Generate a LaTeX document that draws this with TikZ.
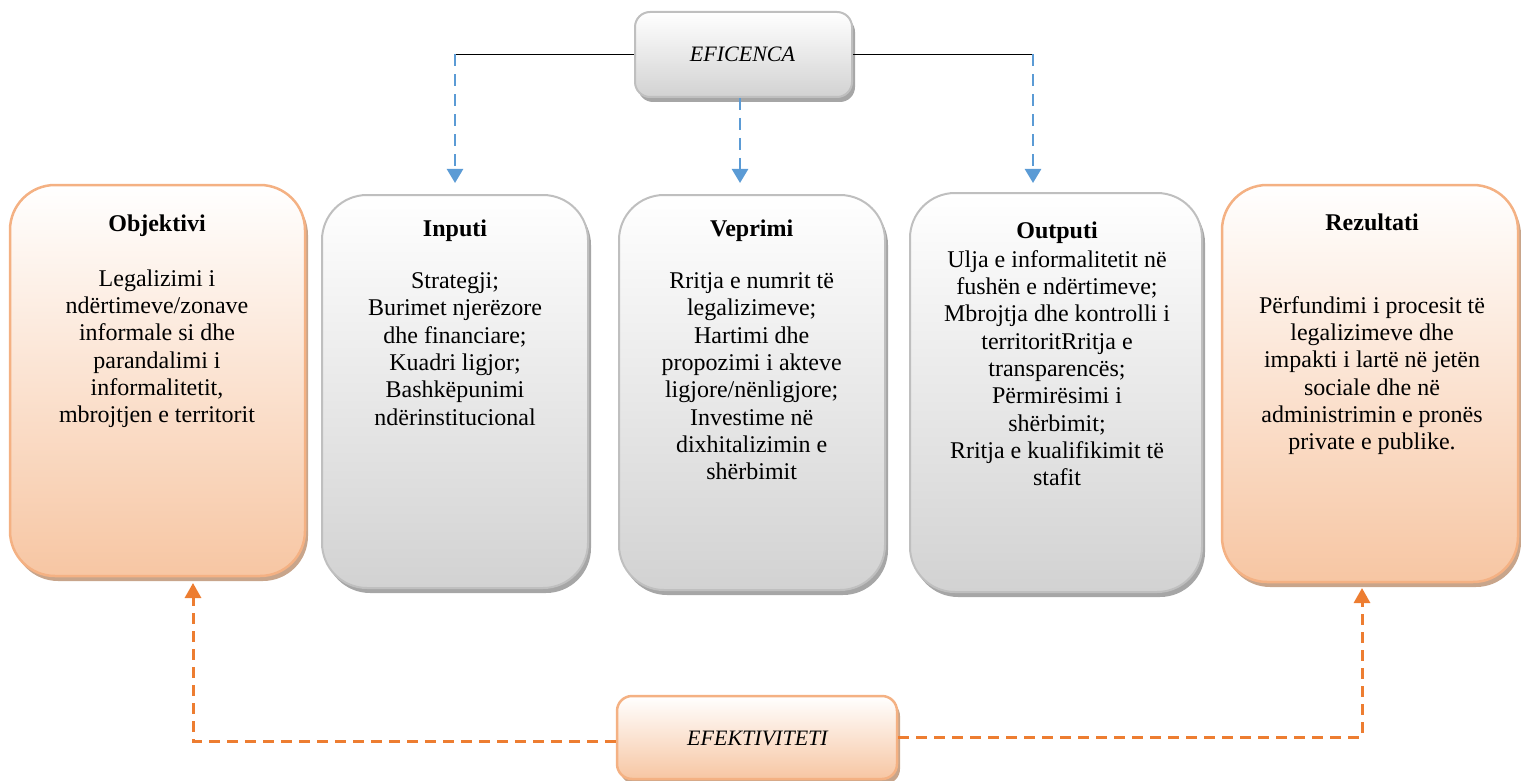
\documentclass[tikz,border=0pt]{standalone}
\usepackage{fontspec}
\setmainfont{Liberation Serif}
\usetikzlibrary{shadows,arrows.meta,calc}
\definecolor{gborder}{HTML}{BFBFBF}
\definecolor{gbottom}{HTML}{D2D2D2}
\definecolor{gshadow}{HTML}{A6A6A6}
\definecolor{oborder}{HTML}{F4B183}
\definecolor{obottom}{HTML}{F7C6A3}
\definecolor{oshadow}{HTML}{C8A58B}
\definecolor{bluearrow}{HTML}{5B9BD5}
\definecolor{orangearrow}{HTML}{ED7D31}
\begin{document}
\begin{tikzpicture}[x=1pt,y=-1pt,
  greybox/.style={rectangle,rounded corners=45pt,draw=gborder,line width=2pt,
    top color=white,bottom color=gbottom,inner sep=0pt,
    drop shadow={shadow xshift=3pt,shadow yshift=-5pt,fill=gshadow,opacity=1}},
  orangebox/.style={rectangle,rounded corners=45pt,draw=oborder,line width=2.5pt,
    top color=white,bottom color=obottom,inner sep=0pt,
    drop shadow={shadow xshift=3pt,shadow yshift=-5pt,fill=oshadow,opacity=1}},
  smallgrey/.style={greybox,rounded corners=15pt},
  smallorange/.style={orangebox,rounded corners=15pt},
  boxtext/.style={anchor=north,align=center,inner sep=0pt,
    font=\fontsize{24}{27.3}\selectfont},
  lbltext/.style={anchor=base,inner sep=0pt,font=\fontsize{22}{26}\selectfont\itshape},
  bluedash/.style={draw=bluearrow,line width=2.5pt,dash pattern=on 12pt off 8pt,
    -{Triangle[length=14pt,width=16pt]}},
  orangedash/.style={draw=orangearrow,line width=3pt,dash pattern=on 11pt off 7pt,
    -{Triangle[length=15pt,width=16pt]}},
  blackline/.style={draw=black,line width=1.5pt}
]
\useasboundingbox (0,0) rectangle (1521,781);

% main boxes
\node[orangebox,minimum width=295pt,minimum height=391pt] (obj) at (157.5,380.5) {};
\node[greybox,minimum width=266pt,minimum height=393pt] (inp) at (455,391.5) {};
\node[greybox,minimum width=266pt,minimum height=395pt] (vep) at (752,392.5) {};
\node[greybox,minimum width=292pt,minimum height=399pt] (out) at (1056,392.5) {};
\node[orangebox,minimum width=296pt,minimum height=397pt] (rez) at (1370,383.5) {};

% top and bottom label boxes
\node[smallgrey,minimum width=217pt,minimum height=85pt] (efi) at (743.5,54.5) {};
\node[smallorange,minimum width=280pt,minimum height=83pt] (efk) at (757,737.5) {};
\node[lbltext] (efit) at (742.5,61.7) {EFICENCA};
\node[lbltext] (efkt) at (757.5,745.7) {EFEKTIVITETI};

% texts
\node[boxtext] (objt) at (157,211.7) {\rule{0pt}{20pt}\textbf{Objektivi}\\[27pt]
  Legalizimi i\\ ndërtimeve/zonave\\ informale si dhe\\ parandalimi i\\
  informalitetit,\\ mbrojtjen e territorit};
\node[boxtext] (inpt) at (455,216) {\rule{0pt}{20pt}\textbf{Inputi}\\[25pt]
  Strategji;\\ Burimet njerëzore\\ dhe financiare;\\ Kuadri ligjor;\\
  Bashkëpunimi\\ ndërinstitucional};
\node[boxtext] (vept) at (751.7,216) {\rule{0pt}{20pt}\textbf{Veprimi}\\[25pt]
  Rritja e numrit të\\ legalizimeve;\\ Hartimi dhe\\ propozimi i akteve\\
  ligjore/nënligjore;\\ Investime në\\ dixhitalizimin e\\ shërbimit};
\node[boxtext] (outt) at (1057,218.3) {\rule{0pt}{20pt}\textbf{Outputi}\\[1.5pt]
  Ulja e informalitetit në\\ fushën e ndërtimeve;\\ Mbrojtja dhe kontrolli i\\
  territoritRritja e\\ transparencës;\\ Përmirësimi i\\ shërbimit;\\
  Rritja e kualifikimit të\\ stafit};
\node[boxtext] (rezt) at (1372,210.7) {\rule{0pt}{20pt}\textbf{Rezultati}\\[55pt]
  Përfundimi i procesit të\\ legalizimeve dhe\\ impakti i lartë në jetën\\
  sociale dhe në\\ administrimin e pronës\\ private e publike.};

% EFICENCA connectors
\coordinate (b1) at (455,54.5);
\coordinate (b1e) at (455,183);
\coordinate (b3) at (1033,54.5);
\coordinate (b3e) at (1033,183);
\coordinate (b2e) at (740,183);
\draw[blackline] (efi.west) -- (b1);
\draw[blackline] (efi.east) -- (b3);
\draw[bluedash] (b1) -- (b1e);
\draw[bluedash] (b3) -- (b3e);
\draw[bluedash] ($(efi.south)+(-3.5,0)$) -- (b2e);

% EFEKTIVITETI connectors
\coordinate (o1e) at (193,583);
\coordinate (o2e) at (1362,588);
\draw[orangedash] ($(efk.west)+(0,3.5)$) -| (o1e);
\draw[orangedash] ($(efk.east)+(0,-0.5)$) -| (o2e);
\end{tikzpicture}
\end{document}
